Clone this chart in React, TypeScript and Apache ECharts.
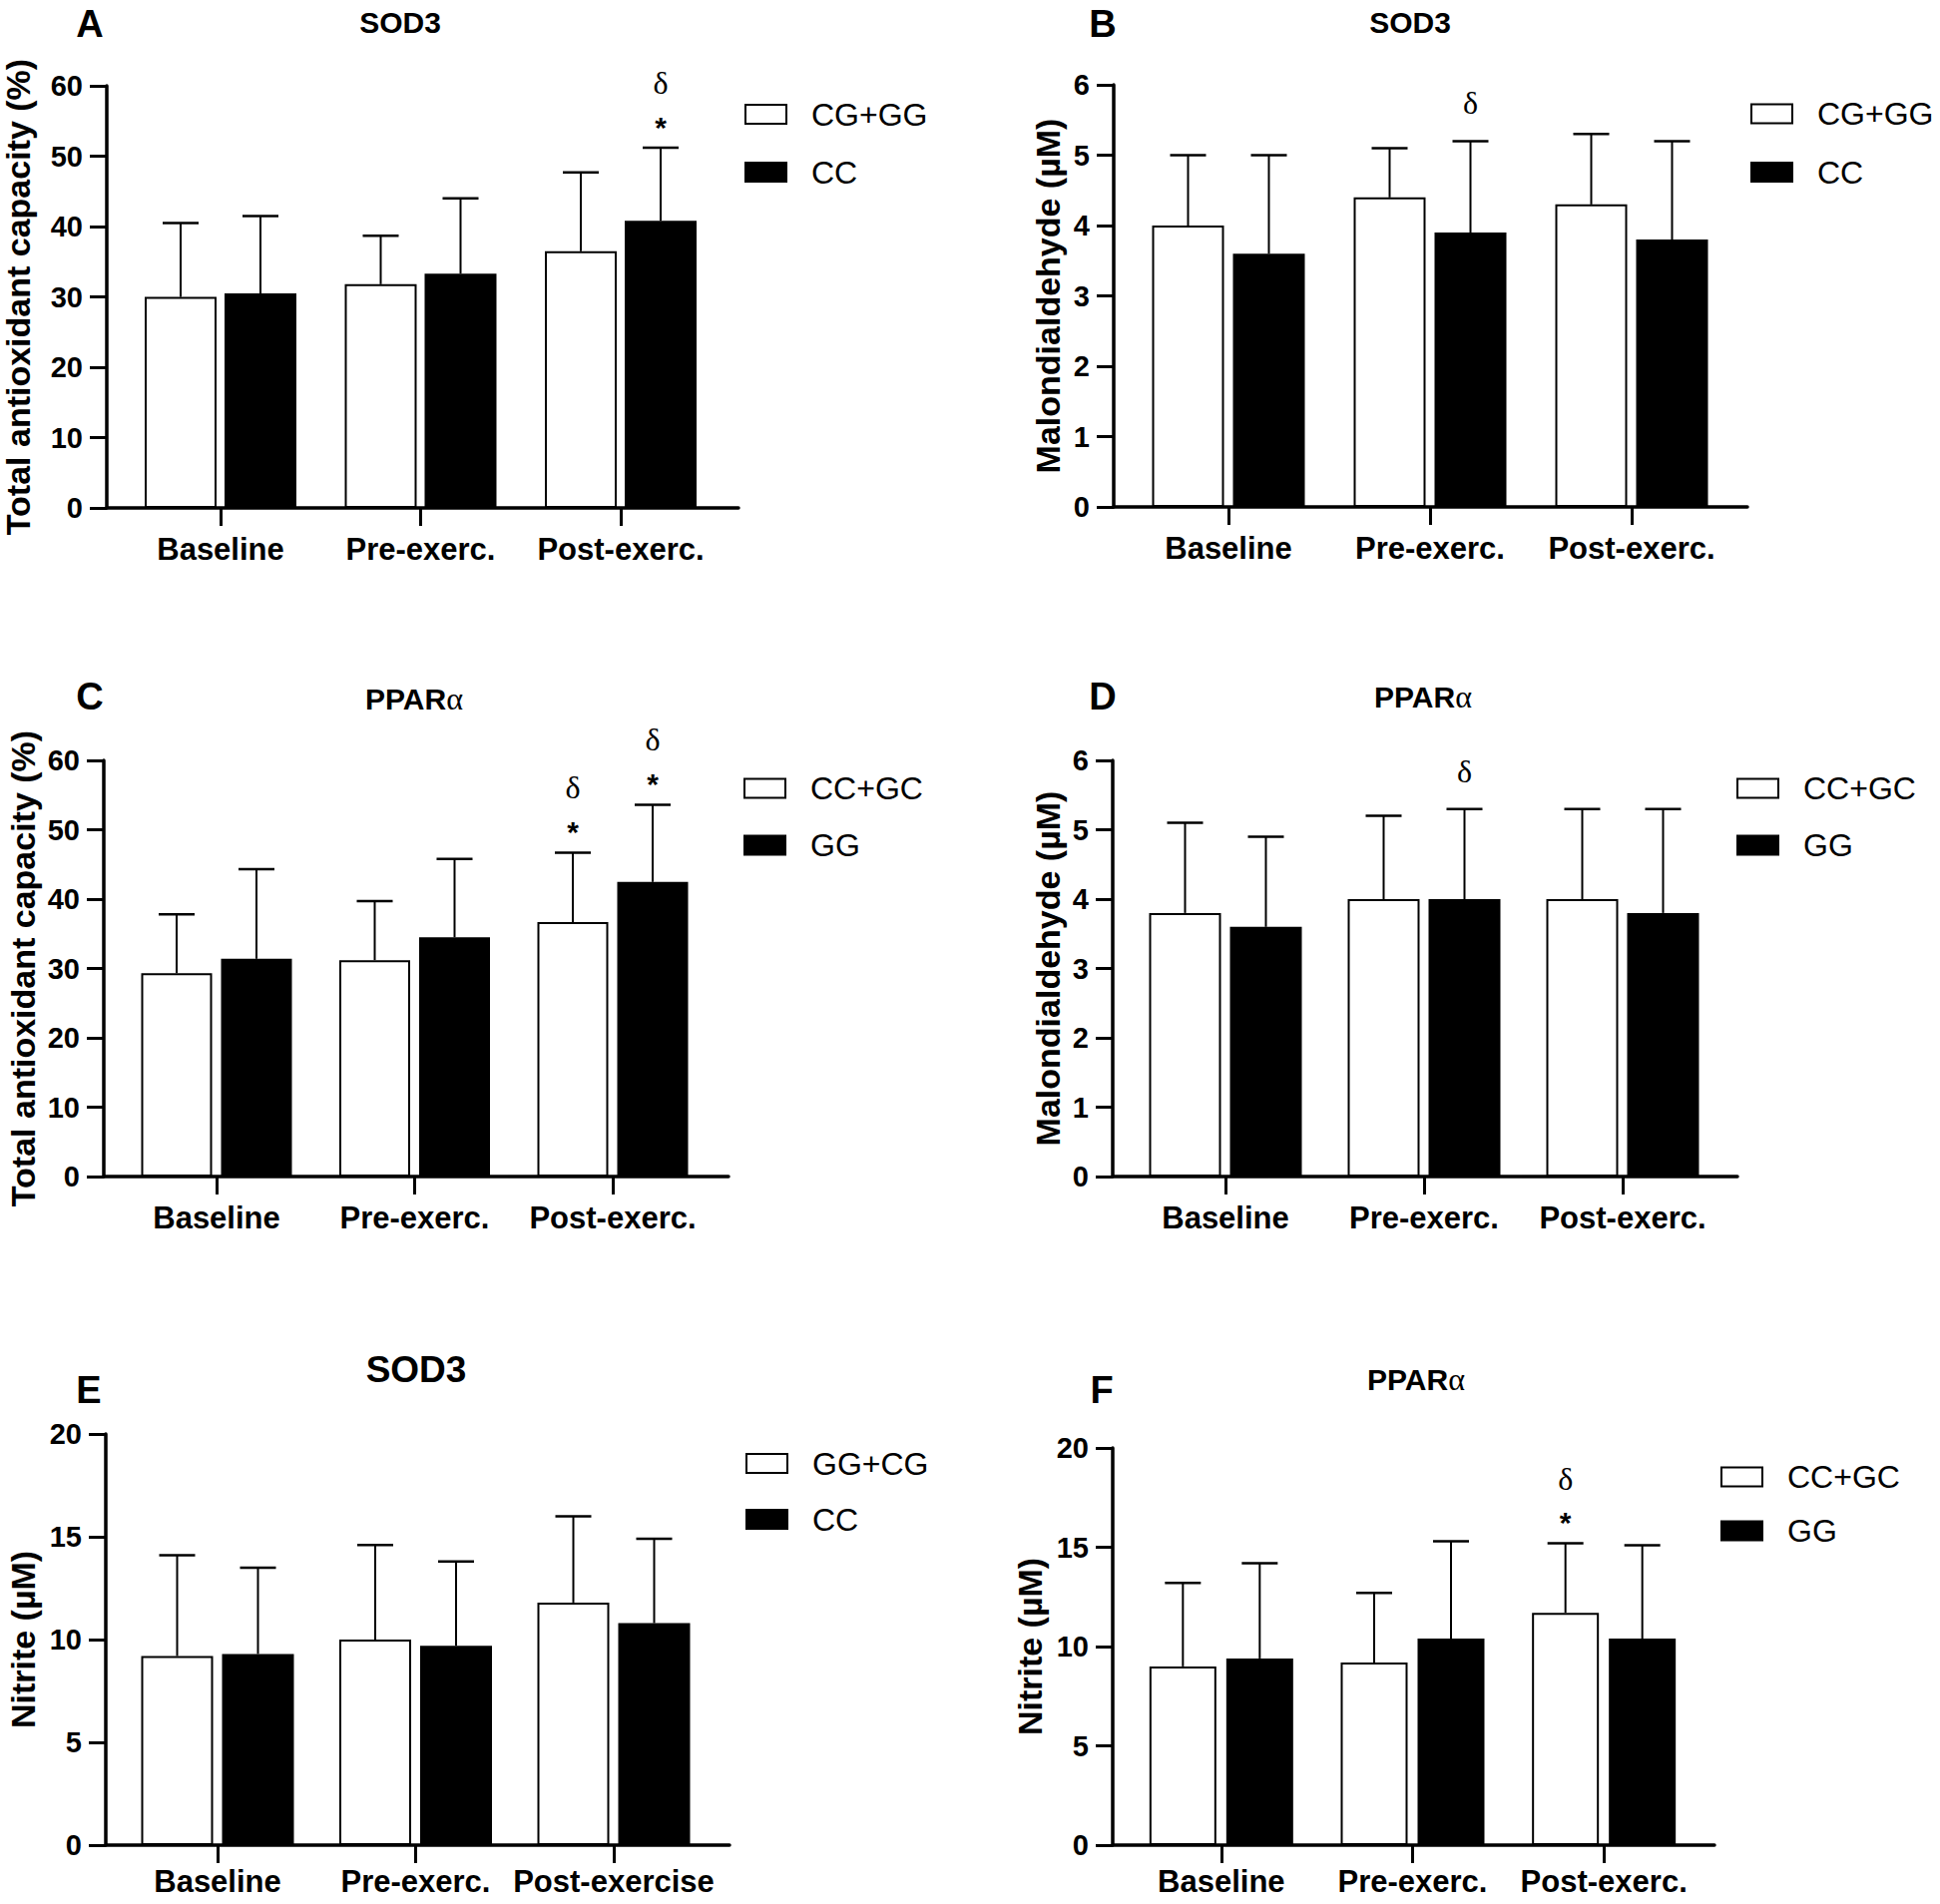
import React, { useEffect, useRef } from "react";
import * as echarts from "echarts";

// ---------------- DATA ----------------
const CATEGORIES = ["Baseline", "Pre-exerc.", "Post-exerc."];
const CATEGORIES_E = ["Baseline", "Pre-exerc.", "Post-exercise"];

// Panel A
const A_TITLE = "SOD3";
const A_Y_NAME = "Total antioxidant capacity (%)";
const A_Y_MAX = 60;
const A_Y_STEP = 10;
const A_GROUP_1 = "CG+GG";
const A_GROUP_2 = "CC";
const A_MEAN_1 = [30.0, 31.8, 36.5];
const A_UPPER_1 = [40.5, 38.7, 47.7];
const A_MEAN_2 = [30.5, 33.3, 40.8];
const A_UPPER_2 = [41.5, 44.0, 51.2];
const A_MARK_1 = ["", "", ""];
const A_MARK_2 = ["", "", "δ*"];

// Panel B
const B_TITLE = "SOD3";
const B_Y_NAME = "Malondialdehyde (µM)";
const B_Y_MAX = 6;
const B_Y_STEP = 1;
const B_GROUP_1 = "CG+GG";
const B_GROUP_2 = "CC";
const B_MEAN_1 = [4.0, 4.4, 4.3];
const B_UPPER_1 = [5.0, 5.1, 5.3];
const B_MEAN_2 = [3.6, 3.9, 3.8];
const B_UPPER_2 = [5.0, 5.2, 5.2];
const B_MARK_1 = ["", "", ""];
const B_MARK_2 = ["", "δ", ""];

// Panel C
const C_TITLE = "PPARα";
const C_Y_NAME = "Total antioxidant capacity (%)";
const C_Y_MAX = 60;
const C_Y_STEP = 10;
const C_GROUP_1 = "CC+GC";
const C_GROUP_2 = "GG";
const C_MEAN_1 = [29.3, 31.2, 36.7];
const C_UPPER_1 = [37.8, 39.7, 46.7];
const C_MEAN_2 = [31.4, 34.5, 42.5];
const C_UPPER_2 = [44.3, 45.8, 53.6];
const C_MARK_1 = ["", "", "δ*"];
const C_MARK_2 = ["", "", "δ*"];

// Panel D
const D_TITLE = "PPARα";
const D_Y_NAME = "Malondialdehyde (µM)";
const D_Y_MAX = 6;
const D_Y_STEP = 1;
const D_GROUP_1 = "CC+GC";
const D_GROUP_2 = "GG";
const D_MEAN_1 = [3.8, 4.0, 4.0];
const D_UPPER_1 = [5.1, 5.2, 5.3];
const D_MEAN_2 = [3.6, 4.0, 3.8];
const D_UPPER_2 = [4.9, 5.3, 5.3];
const D_MARK_1 = ["", "", ""];
const D_MARK_2 = ["", "δ", ""];

// Panel E
const E_TITLE = "SOD3";
const E_Y_NAME = "Nitrite (µM)";
const E_Y_MAX = 20;
const E_Y_STEP = 5;
const E_GROUP_1 = "GG+CG";
const E_GROUP_2 = "CC";
const E_MEAN_1 = [9.2, 10.0, 11.8];
const E_UPPER_1 = [14.1, 14.6, 16.0];
const E_MEAN_2 = [9.3, 9.7, 10.8];
const E_UPPER_2 = [13.5, 13.8, 14.9];
const E_MARK_1 = ["", "", ""];
const E_MARK_2 = ["", "", ""];

// Panel F
const F_TITLE = "PPARα";
const F_Y_NAME = "Nitrite (µM)";
const F_Y_MAX = 20;
const F_Y_STEP = 5;
const F_GROUP_1 = "CC+GC";
const F_GROUP_2 = "GG";
const F_MEAN_1 = [9.0, 9.2, 11.7];
const F_UPPER_1 = [13.2, 12.7, 15.2];
const F_MEAN_2 = [9.4, 10.4, 10.4];
const F_UPPER_2 = [14.2, 15.3, 15.1];
const F_MARK_1 = ["", "", "δ*"];
const F_MARK_2 = ["", "", ""];

// ---------------- STYLE / LAYOUT ----------------
const SANS = "'Liberation Sans', Arial, Helvetica, sans-serif";
const SERIF = "'Liberation Serif', 'Times New Roman', Times, serif";

type Layout = {
  letter: [number, number];
  title: [number, number];
  titleSize: number;
  axisX: number;
  axisEnd: number;
  top: number;
  bottom: number;
  catLeft: number;
  catRight: number;
  barWidth: number;
  barGapPx: number;
  nameGap: number;
  labelMargin: number;
  legend: [number, number, number];
};

const LAYOUT_A: Layout = { letter: [90, 24], title: [401, 22], titleSize: 30, axisX: 106, axisEnd: 740, top: 86, bottom: 509, catLeft: 120.75, catRight: 722.25, barWidth: 72, barGapPx: 8, nameGap: 72, labelMargin: 26, legend: [746, 98.5, 26] };
const LAYOUT_B: Layout = { letter: [1105, 24], title: [1413, 22], titleSize: 30, axisX: 1116, axisEnd: 1751, top: 85, bottom: 508, catLeft: 1130, catRight: 1736, barWidth: 72, barGapPx: 9, nameGap: 49, labelMargin: 26, legend: [1754, 98, 26.5] };
const LAYOUT_C: Layout = { letter: [90, 698], title: [415, 700], titleSize: 30, axisX: 104, axisEnd: 730, top: 762, bottom: 1179, catLeft: 117.75, catRight: 713.25, barWidth: 71, barGapPx: 9, nameGap: 64, labelMargin: 26, legend: [745, 774, 25] };
const LAYOUT_D: Layout = { letter: [1105, 698], title: [1426, 698], titleSize: 30, axisX: 1115, axisEnd: 1741, top: 762, bottom: 1179, catLeft: 1128.5, catRight: 1725.5, barWidth: 72, barGapPx: 9, nameGap: 48, labelMargin: 26, legend: [1740, 774, 25] };
const LAYOUT_E: Layout = { letter: [89, 1393], title: [417, 1372], titleSize: 37, axisX: 106, axisEnd: 731, top: 1437, bottom: 1849, catLeft: 118.75, catRight: 714.25, barWidth: 72, barGapPx: 9, nameGap: 66, labelMargin: 21, legend: [747, 1450.5, 24] };
const LAYOUT_F: Layout = { letter: [1104, 1393], title: [1419, 1382], titleSize: 30, axisX: 1115, axisEnd: 1718, top: 1451, bottom: 1849, catLeft: 1128, catRight: 1703, barWidth: 67, barGapPx: 10, nameGap: 66, labelMargin: 21, legend: [1724, 1464, 22] };

const PANELS = [
  { letter: "A", title: A_TITLE, yName: A_Y_NAME, yMax: A_Y_MAX, yStep: A_Y_STEP, cats: CATEGORIES, groups: [A_GROUP_1, A_GROUP_2], means: [A_MEAN_1, A_MEAN_2], uppers: [A_UPPER_1, A_UPPER_2], marks: [A_MARK_1, A_MARK_2], L: LAYOUT_A },
  { letter: "B", title: B_TITLE, yName: B_Y_NAME, yMax: B_Y_MAX, yStep: B_Y_STEP, cats: CATEGORIES, groups: [B_GROUP_1, B_GROUP_2], means: [B_MEAN_1, B_MEAN_2], uppers: [B_UPPER_1, B_UPPER_2], marks: [B_MARK_1, B_MARK_2], L: LAYOUT_B },
  { letter: "C", title: C_TITLE, yName: C_Y_NAME, yMax: C_Y_MAX, yStep: C_Y_STEP, cats: CATEGORIES, groups: [C_GROUP_1, C_GROUP_2], means: [C_MEAN_1, C_MEAN_2], uppers: [C_UPPER_1, C_UPPER_2], marks: [C_MARK_1, C_MARK_2], L: LAYOUT_C },
  { letter: "D", title: D_TITLE, yName: D_Y_NAME, yMax: D_Y_MAX, yStep: D_Y_STEP, cats: CATEGORIES, groups: [D_GROUP_1, D_GROUP_2], means: [D_MEAN_1, D_MEAN_2], uppers: [D_UPPER_1, D_UPPER_2], marks: [D_MARK_1, D_MARK_2], L: LAYOUT_D },
  { letter: "E", title: E_TITLE, yName: E_Y_NAME, yMax: E_Y_MAX, yStep: E_Y_STEP, cats: CATEGORIES_E, groups: [E_GROUP_1, E_GROUP_2], means: [E_MEAN_1, E_MEAN_2], uppers: [E_UPPER_1, E_UPPER_2], marks: [E_MARK_1, E_MARK_2], L: LAYOUT_E },
  { letter: "F", title: F_TITLE, yName: F_Y_NAME, yMax: F_Y_MAX, yStep: F_Y_STEP, cats: CATEGORIES, groups: [F_GROUP_1, F_GROUP_2], means: [F_MEAN_1, F_MEAN_2], uppers: [F_UPPER_1, F_UPPER_2], marks: [F_MARK_1, F_MARK_2], L: LAYOUT_F },
];

const AXIS_W = 3.5;
const TICK_W = 3;
const ERR_W = 2;
const CAP_W = 2.5;
const CAP_HALF = 18;
const STAR_OFFSET = 21;
const DELTA_OFFSET_STAR = 65;
const DELTA_OFFSET = 38;

function buildOption() {
  const grid: any[] = [];
  const xAxis: any[] = [];
  const yAxis: any[] = [];
  const series: any[] = [];
  const legend: any[] = [];
  const graphic: any[] = [];

  PANELS.forEach((p, i) => {
    const L = p.L;
    const g0 = i * 2;
    const g1 = i * 2 + 1;
    const h = L.bottom - L.top;

    grid.push({ left: L.axisX, top: L.top, width: L.axisEnd - L.axisX, height: h });
    grid.push({ left: L.catLeft, top: L.top, width: L.catRight - L.catLeft, height: h });

    xAxis.push({
      gridIndex: g0, type: "value", min: 0, max: 1,
      axisLine: { show: true, onZero: false, lineStyle: { color: "#000", width: AXIS_W } },
      axisTick: { show: false }, axisLabel: { show: false }, splitLine: { show: false },
    });
    xAxis.push({
      gridIndex: g1, type: "category", data: p.cats,
      axisLine: { show: false },
      axisTick: { show: true, alignWithLabel: true, interval: 0, length: 18, lineStyle: { color: "#000", width: TICK_W } },
      axisLabel: { interval: 0, hideOverlap: false, fontSize: 31, fontWeight: "bold", color: "#000", fontFamily: SANS, margin: L.labelMargin },
      splitLine: { show: false },
    });

    yAxis.push({
      gridIndex: g0, type: "value", min: 0, max: p.yMax, interval: p.yStep,
      name: p.yName, nameLocation: "middle", nameGap: L.nameGap,
      nameTextStyle: { fontSize: 34, fontWeight: "bold", color: "#000", fontFamily: SANS },
      axisLine: { show: true, onZero: false, lineStyle: { color: "#000", width: AXIS_W } },
      axisTick: { show: true, length: 17, lineStyle: { color: "#000", width: TICK_W } },
      axisLabel: { fontSize: 29, fontWeight: "bold", color: "#000", fontFamily: SANS, margin: 24 },
      splitLine: { show: false },
    });
    yAxis.push({ gridIndex: g1, type: "value", min: 0, max: p.yMax, interval: p.yStep, show: false });

    [0, 1].forEach((s) => {
      series.push({
        type: "bar", name: p.groups[s], xAxisIndex: g1, yAxisIndex: g1,
        data: p.means[s], barWidth: L.barWidth, barGap: ((L.barGapPx / L.barWidth) * 100).toFixed(2) + "%",
        itemStyle: { color: s === 0 ? "#ffffff" : "#000000", borderColor: "#000", borderWidth: 2 },
        emphasis: { disabled: true }, silent: true,
      });
    });

    [0, 1].forEach((s) => {
      const off = (s === 0 ? -1 : 1) * (L.barWidth + L.barGapPx) / 2;
      const marks = p.marks[s];
      series.push({
        type: "custom", xAxisIndex: g1, yAxisIndex: g1, silent: true, z: 5,
        data: p.means[s].map((m, k) => [k, m, p.uppers[s][k]]),
        renderItem: (params: any, api: any) => {
          const k = api.value(0);
          const b = api.coord([k, api.value(1)]);
          const t = api.coord([k, api.value(2)]);
          const x = b[0] + off;
          const children: any[] = [
            { type: "line", shape: { x1: x, y1: b[1], x2: x, y2: t[1] }, style: { stroke: "#000", lineWidth: ERR_W } },
            { type: "line", shape: { x1: x - CAP_HALF, y1: t[1], x2: x + CAP_HALF, y2: t[1] }, style: { stroke: "#000", lineWidth: CAP_W } },
          ];
          const mk = marks[params.dataIndex] || "";
          const star = mk.indexOf("*") >= 0;
          if (star) {
            children.push({
              type: "text", x, y: t[1] - STAR_OFFSET,
              style: { text: "*", fontFamily: SANS, fontWeight: "bold", fontSize: 30, fill: "#000", align: "center", verticalAlign: "middle" },
            });
          }
          if (mk.indexOf("δ") >= 0) {
            children.push({
              type: "text", x, y: t[1] - (star ? DELTA_OFFSET_STAR : DELTA_OFFSET),
              style: { text: "δ", fontFamily: SERIF, fontSize: 32, fill: "#000", align: "center", verticalAlign: "middle" },
            });
          }
          return { type: "group", children };
        },
      });
    });

    legend.push({
      data: p.groups, orient: "vertical", left: L.legend[0], top: L.legend[1], itemGap: L.legend[2],
      padding: 0, itemWidth: 41, itemHeight: 19, icon: "rect", selectedMode: false,
      itemStyle: { borderColor: "#000", borderWidth: 2 },
      textStyle: { fontSize: 32, lineHeight: 32, color: "#000", fontFamily: SANS, padding: [0, 0, 0, 20] },
    });

    graphic.push({
      type: "text", x: L.letter[0], y: L.letter[1], silent: true,
      style: { text: p.letter, fontFamily: SANS, fontWeight: "bold", fontSize: 38, fill: "#000", align: "center", verticalAlign: "middle" },
    });
    const hasAlpha = p.title.indexOf("α") >= 0;
    graphic.push({
      type: "text", x: L.title[0], y: L.title[1], silent: true,
      style: hasAlpha
        ? {
            text: "{a|" + p.title.replace("α", "") + "}{b|α}",
            align: "center", verticalAlign: "middle",
            rich: {
              a: { fontFamily: SANS, fontWeight: "bold", fontSize: L.titleSize, fill: "#000" },
              b: { fontFamily: SERIF, fontSize: L.titleSize + 2, fill: "#000" },
            },
          }
        : { text: p.title, fontFamily: SANS, fontWeight: "bold", fontSize: L.titleSize, fill: "#000", align: "center", verticalAlign: "middle" },
    });
  });

  return {
    animation: false,
    backgroundColor: "#ffffff",
    textStyle: { fontFamily: SANS },
    grid, xAxis, yAxis, series, legend, graphic,
  };
}

export default function App() {
  const ref = useRef<HTMLDivElement>(null);
  useEffect(() => {
    if (!ref.current) return;
    const chart = echarts.init(ref.current, null, { renderer: "svg" });
    chart.setOption(buildOption() as any);
    return () => chart.dispose();
  }, []);
  return <div ref={ref} style={{ position: "absolute", left: 0, top: 0, width: 1944, height: 1908, background: "#fff" }} />;
}
